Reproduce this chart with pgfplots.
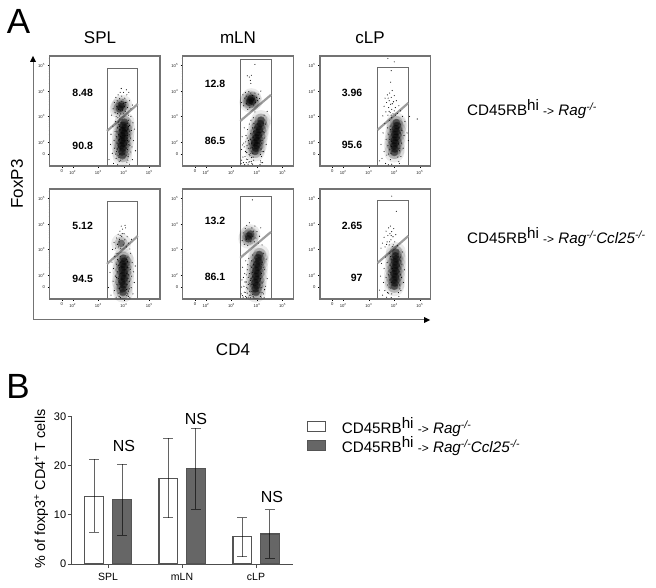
\documentclass[border=0pt]{standalone}
\usepackage{pgfplots}
\usepackage{pgfplotstable}
\pgfplotsset{compat=1.18}
\usepackage{fontspec}
\setmainfont{Liberation Sans}
\definecolor{frame}{gray}{0.45}
\definecolor{gate}{gray}{0.42}
\definecolor{band}{gray}{0.62}
\definecolor{bardark}{gray}{0.40}
\definecolor{barline}{gray}{0.33}
\newcommand{\T}[1]{\fontsize{#1}{#1}\selectfont}
\newcommand{\dt}{10\textsuperscript}
\newcommand{\grp}[1]{CD45RB\raisebox{0.33em}{hi} {\fontsize{12}{12}\selectfont->} \textit{#1}}
\newcommand{\ko}{\raisebox{0.33em}{\fontsize{10.5}{10.5}\selectfont\textit{-/-}}}

% --- gated core of each population, in decades
\pgfplotstableread{
x y
3.95 1.45
3.93 1.60
3.97 1.75
3.90 1.85
4.00 1.95
3.92 2.05
4.02 2.15
3.93 2.25
4.03 2.35
3.95 2.45
4.05 2.55
3.97 2.65
4.03 2.78
3.88 3.38
3.94 3.46
3.84 3.30
}\coreA
\pgfplotstableread{
x y
3.97 1.30
3.95 1.45
3.99 1.60
3.92 1.72
4.02 1.85
3.94 1.95
4.03 2.08
3.93 2.20
4.02 2.32
3.95 2.42
4.03 2.54
3.98 2.66
3.90 3.24
}\coreB
\pgfplotstableread{
x y
3.92 1.62
3.95 1.75
4.00 1.86
3.90 1.96
4.02 2.05
3.96 2.16
4.06 2.26
4.00 2.36
4.10 2.48
4.05 2.60
4.14 2.72
4.16 2.86
3.74 3.64
3.82 3.60
3.70 3.56
3.78 3.72
}\coreC
\pgfplotstableread{
x y
3.96 1.30
3.93 1.45
3.99 1.58
3.92 1.70
4.01 1.82
3.95 1.94
4.03 2.06
3.96 2.18
4.05 2.30
3.99 2.42
4.07 2.55
4.04 2.68
4.10 2.80
3.68 3.53
3.74 3.60
3.66 3.42
}\coreD
\pgfplotstableread{
x y
4.00 1.58
4.03 1.72
3.98 1.84
4.05 1.96
4.00 2.06
4.07 2.18
4.02 2.28
4.09 2.40
4.05 2.52
4.11 2.64
4.08 2.76
}\coreE
\pgfplotstableread{
x y
4.00 1.55
4.03 1.68
3.98 1.80
4.05 1.92
3.99 2.04
4.06 2.15
4.01 2.27
4.07 2.39
4.02 2.51
4.08 2.63
4.04 2.75
4.06 2.90
}\coreF

% --- single events
\pgfplotstableread{
x y
3.42 1.30
3.48 1.90
3.50 2.30
3.55 1.55
3.57 2.62
3.60 1.15
3.62 2.05
3.64 1.75
3.66 2.40
3.68 2.80
3.70 1.35
3.71 2.20
3.72 1.62
3.74 1.95
3.75 2.55
3.76 1.10
3.77 2.95
3.78 1.45
3.79 2.30
3.80 1.80
3.81 2.68
3.82 1.22
3.83 2.10
3.84 1.52
3.85 2.48
3.85 2.90
4.12 1.20
4.14 1.70
4.15 2.05
4.16 2.50
4.17 1.42
4.18 2.85
4.20 1.90
4.21 2.30
4.22 1.12
4.23 2.65
4.25 1.60
4.26 2.15
4.28 3.00
4.30 2.45
4.32 1.80
4.34 1.30
4.36 2.75
4.38 2.05
4.42 2.50
4.46 1.65
3.52 3.05
3.58 3.30
3.63 3.55
3.66 3.15
3.69 3.75
3.72 3.40
3.74 3.62
3.76 3.12
3.78 3.85
3.80 3.28
3.82 3.56
3.84 3.70
3.86 3.95
3.88 3.10
3.90 3.60
3.92 3.80
3.95 3.25
3.97 3.65
3.99 3.95
4.02 3.40
4.04 3.72
4.06 3.20
4.09 3.55
4.12 3.85
4.15 3.35
4.18 3.05
4.22 3.62
4.28 3.30
4.34 3.45
3.90 4.10
4.10 4.05
4.20 3.95
3.68 1.52
3.73 2.42
3.76 1.72
3.78 2.78
3.81 1.38
3.83 2.60
3.86 1.72
3.87 2.22
3.88 1.28
3.89 2.75
4.10 1.48
4.11 2.42
4.12 1.88
4.13 2.72
4.14 2.25
4.16 1.28
4.17 2.00
4.19 2.60
4.20 1.52
4.22 2.42
4.24 1.85
3.70 3.00
3.84 3.02
4.00 3.10
3.78 3.52
3.86 3.22
3.98 3.52
4.06 3.55
}\dotsA
\pgfplotstableread{
x y
3.40 1.50
3.46 2.10
3.50 1.20
3.54 2.50
3.58 1.75
3.60 2.25
3.63 1.38
3.65 2.72
3.67 1.95
3.70 1.12
3.72 2.42
3.73 1.62
3.75 2.12
3.77 2.85
3.78 1.28
3.80 1.85
3.81 2.55
3.83 1.46
3.84 2.28
3.86 2.72
3.87 1.10
4.12 1.18
4.13 1.62
4.14 2.28
4.16 2.70
4.18 1.36
4.19 2.00
4.21 2.50
4.22 1.75
4.24 1.10
4.26 2.22
4.27 2.85
4.29 1.50
4.31 1.95
4.33 2.48
4.36 1.25
4.38 2.12
4.41 1.70
4.45 2.35
3.56 3.00
3.62 3.28
3.68 3.05
3.72 3.45
3.75 3.20
3.78 3.60
3.80 3.10
3.83 3.40
3.85 3.72
3.88 3.05
3.92 3.52
3.95 3.80
3.98 3.18
4.01 3.62
4.04 3.38
4.07 3.85
4.10 3.10
4.13 3.50
4.18 3.25
4.24 3.02
4.30 3.40
3.90 3.92
4.05 3.95
3.71 1.90
3.75 2.60
3.77 1.48
3.79 2.38
3.82 1.15
3.85 1.70
3.86 2.05
3.88 2.50
3.89 1.32
4.10 2.60
4.11 1.42
4.12 2.05
4.14 1.25
4.15 2.52
4.17 1.85
4.19 1.15
4.20 2.28
4.22 1.45
3.70 2.85
3.82 3.30
3.86 3.55
3.94 3.62
}\dotsB
\pgfplotstableread{
x y
3.38 1.15
3.40 1.70
3.42 2.20
3.45 1.40
3.48 1.95
3.50 2.55
3.52 1.10
3.55 1.62
3.57 2.25
3.59 1.32
3.61 1.85
3.63 2.48
3.65 1.12
3.67 2.05
3.69 1.50
3.70 2.70
3.72 1.22
3.73 1.75
3.75 2.32
3.76 2.85
3.78 1.38
3.79 1.95
3.80 1.15
3.82 2.55
3.84 1.55
3.85 2.18
3.86 2.95
3.87 1.28
3.88 2.72
4.14 1.25
4.16 1.72
4.18 1.42
4.20 2.05
4.22 1.18
4.24 2.40
4.26 1.62
4.28 3.05
4.30 2.15
4.33 2.70
4.36 1.90
4.40 3.20
3.40 3.55
3.45 3.85
3.48 3.42
3.52 3.72
3.55 3.95
3.58 3.50
3.60 3.80
3.64 3.28
3.68 3.98
3.72 3.35
3.76 3.92
3.82 3.82
3.86 3.45
3.88 3.68
3.92 3.92
3.95 3.55
3.98 3.75
4.02 3.62
4.05 3.88
4.10 3.70
4.15 4.00
3.70 4.55
3.74 4.42
3.78 4.62
3.76 4.30
3.92 5.05
3.62 4.60
3.40 1.28
3.44 1.88
3.47 1.18
3.50 1.80
3.53 1.42
3.56 2.00
3.58 1.18
3.60 1.58
3.62 2.15
3.64 1.30
3.66 1.75
3.68 1.20
3.70 1.92
3.72 1.45
3.74 2.10
3.76 1.55
3.78 1.22
3.81 1.78
3.83 1.12
3.85 1.40
3.87 2.40
3.89 1.90
4.12 1.10
4.14 1.50
4.16 1.18
4.18 1.95
4.20 1.62
4.24 2.72
4.28 2.38
3.90 2.55
3.92 3.18
}\dotsC
\pgfplotstableread{
x y
3.38 1.25
3.41 1.80
3.44 2.30
3.46 1.12
3.49 1.55
3.52 2.05
3.54 1.30
3.56 2.55
3.58 1.72
3.60 1.10
3.62 2.20
3.64 1.45
3.66 1.90
3.68 2.65
3.70 1.20
3.72 1.65
3.73 2.35
3.75 1.10
3.77 1.85
3.78 2.55
3.80 1.35
3.82 2.10
3.83 2.78
3.85 1.15
3.86 1.60
4.14 1.15
4.16 1.50
4.18 2.05
4.20 1.30
4.22 2.50
4.24 1.72
4.26 2.85
4.28 1.10
4.30 2.20
4.33 1.55
4.36 2.62
4.40 1.85
3.42 3.35
3.46 3.65
3.50 3.20
3.54 3.82
3.58 3.40
3.60 3.95
3.64 3.15
3.70 4.05
3.76 3.30
3.80 3.85
3.84 3.50
3.86 3.72
3.90 3.30
3.92 3.92
3.96 3.45
4.00 3.70
4.05 3.25
4.10 3.52
4.15 3.85
3.82 4.95
4.20 3.18
3.40 1.52
3.43 1.18
3.47 1.90
3.50 1.32
3.53 1.72
3.56 1.15
3.58 2.00
3.60 1.50
3.62 1.28
3.64 2.40
3.66 1.62
3.68 1.12
3.70 2.05
3.72 1.35
3.74 1.78
3.76 1.20
3.78 2.30
3.80 1.62
3.82 1.22
3.84 1.92
3.86 2.40
3.88 1.12
4.12 1.32
4.14 1.85
4.16 1.12
4.18 2.42
4.20 1.68
4.24 2.30
4.26 1.25
4.30 1.42
}\dotsD
\pgfplotstableread{
x y
3.42 1.25
3.48 1.90
3.52 1.35
3.56 2.35
3.60 1.62
3.63 2.72
3.66 1.15
3.68 2.10
3.71 1.48
3.73 2.55
3.75 1.85
3.77 1.10
3.79 2.30
3.81 2.85
3.83 1.70
3.85 1.30
3.86 2.48
3.88 2.02
3.90 1.12
3.90 2.95
4.18 1.22
4.20 1.65
4.22 2.15
4.24 2.70
4.26 1.42
4.28 1.95
4.30 2.45
4.32 3.00
4.35 1.75
4.38 2.25
4.42 2.80
4.50 2.35
3.55 3.02
3.60 3.40
3.64 3.72
3.67 3.18
3.70 3.55
3.73 3.85
3.75 3.05
3.78 3.35
3.80 3.62
3.82 3.92
3.84 3.15
3.86 3.48
3.88 3.75
3.90 3.28
3.92 4.02
3.95 3.10
3.97 3.58
4.00 3.82
4.04 3.35
4.08 3.62
4.12 3.12
4.18 3.42
4.25 3.22
3.86 4.35
3.75 5.28
4.00 5.15
3.88 4.80
4.60 3.00
4.90 2.90
4.55 2.05
3.78 1.52
3.82 2.10
3.84 2.62
3.87 1.55
3.89 1.82
3.92 2.42
4.14 1.40
4.16 1.92
4.18 2.55
4.20 1.15
4.22 1.75
4.24 2.35
3.80 3.20
3.88 3.05
3.92 3.50
4.00 3.22
4.05 3.05
3.76 3.72
}\dotsE
\pgfplotstableread{
x y
3.42 1.40
3.46 1.95
3.50 2.45
3.54 1.20
3.58 1.70
3.60 2.25
3.63 1.38
3.66 2.70
3.68 1.90
3.70 1.12
3.72 2.48
3.74 1.60
3.76 2.15
3.78 1.28
3.80 2.85
3.82 1.80
3.84 2.38
3.86 1.48
3.88 1.10
3.89 2.62
4.18 1.15
4.20 1.60
4.22 2.12
4.24 2.70
4.26 1.38
4.28 1.90
4.30 2.42
4.32 2.90
4.36 1.70
4.40 2.20
3.48 3.05
3.54 3.25
3.60 3.48
3.64 3.10
3.68 3.72
3.72 3.30
3.75 3.55
3.78 3.85
3.80 3.18
3.83 3.62
3.85 3.92
3.87 3.38
3.90 3.70
3.92 3.12
3.95 3.50
3.98 3.82
4.02 3.30
4.06 3.58
4.12 3.15
3.90 5.10
4.08 4.50
3.74 1.30
3.78 2.00
3.80 1.52
3.84 2.10
3.86 2.72
3.88 1.70
3.90 1.25
3.92 2.25
4.16 1.30
4.18 1.80
4.20 2.35
4.22 1.45
4.24 2.00
4.26 2.55
3.70 3.20
3.82 3.30
3.88 3.55
3.96 3.18
}\dotsF

\pgfplotstableread{
x y p m
94.2 13.8 7.5 7.4
168.2 17.4 8.1 8.0
242.2 5.5 3.9 4.0
}\barsA
\pgfplotstableread{
x y p m
122.0 13.07 7.23 7.27
195.8 19.4 8.2 8.3
269.8 6.1 4.9 4.95
}\barsB

% #1 x-pos #2 y-pos of lower left corner, #3 gate top, #4 diag left, #5 diag right, #6 core, #7 dots
\newcommand{\facs}[7]{%
\begin{axis}[at={(#1pt,#2pt)},anchor=south west,scale only axis,width=110.5pt,height=110pt,
  xmin=1.09,xmax=5.42,ymin=1.05,ymax=5.38,
  xtick={1.57,2,3,4,5},xticklabels={0,\dt{2},\dt{3},\dt{4},\dt{5}},
  ytick={1.51,1.97,3,4,5},yticklabels={0,\dt{2},\dt{3},\dt{4},\dt{5}},
  minor xtick={2.3,2.48,2.6,2.7,2.78,2.85,2.9,2.95,3.3,3.48,3.6,3.7,3.78,3.85,3.9,3.95,4.3,4.48,4.6,4.7,4.78,4.85,4.9,4.95,5.3},
  minor ytick={2.3,2.48,2.6,2.7,2.78,2.85,2.9,2.95,3.3,3.48,3.6,3.7,3.78,3.85,3.9,3.95,4.3,4.48,4.6,4.7,4.78,4.85,4.9,4.95,5.3},
  tick pos=left,tick align=outside,
  major tick length=2pt,minor tick length=1pt,
  tick style={black,line width=0.4pt},minor tick style={black,line width=0.25pt},
  axis line style={frame,line width=1.1pt},
  ticklabel style={font=\T{4.2},text=black!85},
  xticklabel style={yshift=1.5pt},yticklabel style={xshift=1pt},
  clip=true]
  \addplot[only marks,mark=*,mark size=10pt,mark options={line width=0pt,draw opacity=0,fill=black,fill opacity=0.08}] table {#6};
  \addplot[only marks,mark=*,mark size=6.5pt,mark options={line width=0pt,draw opacity=0,fill=black,fill opacity=0.18}] table {#6};
  \addplot[only marks,mark=*,mark size=3.8pt,mark options={line width=0pt,draw opacity=0,fill=black,fill opacity=0.42}] table {#6};
  \addplot[only marks,mark=*,mark size=0.55pt,mark options={line width=0pt,draw opacity=0,fill=black}] table {#7};
  \addplot[gate,line width=1pt] coordinates {(3.345,1.05) (3.345,#3) (4.55,#3) (4.55,1.05)};
  \addplot[band,line width=2.2pt] coordinates {(3.345,#4) (4.55,#5)};
\end{axis}}

\begin{document}
\begin{tikzpicture}
\path (0,0) rectangle (656pt,587pt);

\facs{49.5}{421}{4.89}{2.43}{3.49}{\coreA}{\dotsA}
\facs{182.7}{421}{5.24}{2.82}{3.85}{\coreC}{\dotsC}
\facs{320}{421}{4.91}{2.47}{3.53}{\coreE}{\dotsE}
\facs{49.5}{288}{4.90}{2.43}{3.53}{\coreB}{\dotsB}
\facs{182.7}{288}{5.08}{2.67}{3.69}{\coreD}{\dotsD}
\facs{320}{288}{4.91}{2.47}{3.53}{\coreF}{\dotsF}

\begin{axis}[at={(71.7pt,23pt)},anchor=south west,scale only axis,width=221.3pt,height=147.7pt,
  xmin=71.7,xmax=293,ymin=0,ymax=30,
  axis x line=bottom,axis y line=left,axis line style={-,black!70,line width=0.8pt},
  xtick={108,182,256},xticklabels={SPL,mLN,cLP},ytick={0,10,20,30},
  tick align=outside,major tick length=4pt,tick style={black!70,line width=0.8pt},
  xticklabel style={font=\T{10.5},yshift=-1.5pt},
  yticklabel style={font=\T{11},xshift=2pt},
  ybar,bar shift=0pt,bar width=18.5pt,
  /pgf/number format/assume math mode=true,
  clip=false,
  legend cell align=left,
  legend style={draw=none,fill=none,at={(235pt,146.5pt)},anchor=north west,font=\T{15.2},
    inner sep=0pt,outer sep=0pt,nodes={inner sep=0pt,anchor=west},row sep=1.5pt},
  legend image code/.code={\draw[#1,bar shift=0pt] (0pt,-5pt) rectangle (18pt,5pt);},
  error bars/error bar style={black,opacity=0.58,line width=1pt},
  error bars/error mark options={rotate=90,mark size=5pt,black,opacity=0.58,line width=1pt}]
  \addplot[draw=barline,fill=white,line width=1.1pt,
    error bars/.cd,y dir=both,y explicit]
    table[x=x,y=y,y error plus=p,y error minus=m] {\barsA};
  \addplot[draw=barline,fill=bardark,line width=1.1pt,
    error bars/.cd,y dir=both,y explicit]
    table[x=x,y=y,y error plus=p,y error minus=m] {\barsB};
  \legend{\hspace{16pt}\grp{Rag}\ko,\hspace{16pt}\grp{Rag}\ko\textit{Ccl25}\ko}
\end{axis}

\begin{scope}[x=1pt,y=-1pt,shift={(0pt,587pt)}]
\node[font=\T{35}] at (18.5,21) {A};
\node[font=\T{35}] at (18,386) {B};
\node[font=\T{17}] at (100,38) {SPL};
\node[font=\T{17}] at (238,38) {mLN};
\node[font=\T{17}] at (370,38) {cLP};
\node[font=\T{17},rotate=90] at (17,184) {FoxP3};
\node[font=\T{17}] at (233,350) {CD4};
\draw[frame,line width=1pt] (33,320) -- (33,62);
\fill[black] (33,56) -- (30,62) -- (36,62) -- cycle;
\draw[frame,line width=1pt] (33,320) -- (424,320);
\fill[black] (430,320) -- (424,317) -- (424,323) -- cycle;
\foreach \xx/\yy/\tt in {82.7/93/8.48,82.7/146/90.8,215/84/12.8,215/141/86.5,352/93/3.96,352/145/95.6,
  82.7/226/5.12,82.7/279/94.5,215/221/13.2,215/277/86.1,352/226/2.65,356.7/278/97}
  \node[font=\T{10.5}\bfseries] at (\xx,\yy) {\tt};
\node[font=\T{15.2},anchor=base west,inner sep=0pt] at (467,116) {\grp{Rag}\ko};
\node[font=\T{15.2},anchor=base west,inner sep=0pt] at (467,244) {\grp{Rag}\ko\textit{Ccl25}\ko};
\node[font=\T{14.4},rotate=90] at (41,489) {\% of foxp3\textsuperscript{+} CD4\textsuperscript{+} T cells};
\node[font=\T{16}] at (124,446) {NS};
\node[font=\T{16}] at (196,419) {NS};
\node[font=\T{16}] at (272,497) {NS};
\end{scope}
\end{tikzpicture}
\end{document}
